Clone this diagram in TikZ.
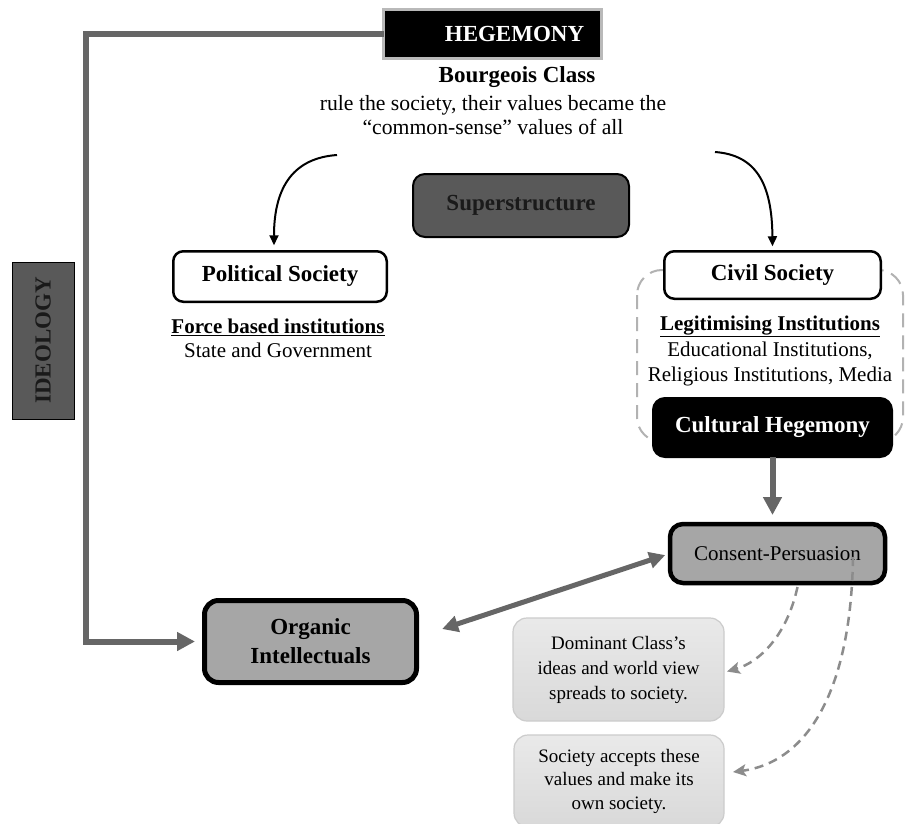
\documentclass[tikz,border=0pt]{standalone}
\usepackage{fontspec}
\setmainfont{Liberation Serif}
\usetikzlibrary{arrows.meta}
\definecolor{linegray}{HTML}{666666}
\definecolor{darkfill}{HTML}{595959}
\definecolor{midfill}{HTML}{A6A6A6}
\definecolor{dashgray}{HTML}{8C8C8C}
\definecolor{darktext}{HTML}{1A1A1A}
\newcommand{\fsz}[2]{\fontsize{#1}{#2}\selectfont}

\begin{document}
\begin{tikzpicture}[x=1pt,y=-1pt,
  every node/.style={inner sep=0pt,outer sep=0pt,align=center},
  titlefont/.style={font=\fsz{23}{28}\bfseries},
  bodyfont/.style={font=\fsz{21}{24}},
  notefont/.style={font=\fsz{19}{25}},
  whitebox/.style={rectangle,rounded corners=10pt,draw=black,line width=2.5pt,fill=white,titlefont},
  blackbox/.style={rectangle,rounded corners=12pt,draw=black,line width=2pt,fill=black,text=white,titlefont},
  darkbox/.style={rectangle,rounded corners=12pt,draw=black,line width=2pt,fill=darkfill,text=darktext,titlefont},
  greybox/.style={rectangle,rounded corners=13pt,draw=black,line width=4.5pt,fill=midfill},
  notebox/.style={rectangle,rounded corners=14pt,draw=gray!40,line width=1.2pt,top color=gray!17,bottom color=gray!30,notefont},
  heavyline/.style={draw=linegray,line width=6pt},
  heavytip/.style={-{Triangle[length=18pt,width=18pt]}},
  bentarrow/.style={draw=black,line width=2pt,-{Triangle[length=10pt,width=9pt]}},
  dashedarrow/.style={draw=dashgray,line width=2.5pt,dash pattern=on 9pt off 6pt,-{Stealth[length=13pt,width=12pt,inset=3pt]}}
]
\fill[white] (0,0) rectangle (905,824);
\useasboundingbox (0,0) rectangle (905,824);

% dashed frame round the civil society block
\draw[gray!60,line width=2pt,dash pattern=on 14pt off 8pt,rounded corners=25pt]
  (637,270) rectangle (903,442);

% top of the hierarchy
\node[rectangle,fill=black,draw=gray!55,line width=3pt,minimum width=218pt,minimum height=49pt,
      text=white,titlefont] (heg) at (492.5,34) {\hspace*{44pt}HEGEMONY};
\node[titlefont] (bourg) at (517,77) {Bourgeois Class};
\node[font=\fsz{21.7}{24}] (rule) at (493,115) {rule the society, their values became the\\“common-sense” values of all};

\node[darkbox,minimum width=216pt,minimum height=63pt] (sup) at (521,205.5) {Superstructure};

% political society
\node[whitebox,minimum width=213.5pt,minimum height=50.5pt] (pol) at (280,276.5) {Political Society};
\node[bodyfont] (force) at (278,338) {\textbf{\underline{Force based institutions}}\\State and Government};

% civil society
\node[whitebox,minimum width=216.5pt,minimum height=47.5pt] (civ) at (772.5,275) {Civil Society};
\node[font=\fsz{21}{25.5}] (legit) at (770,351) {\textbf{\underline{Legitimising Institutions}}\\Educational Institutions,\\Religious Institutions, Media};
\node[blackbox,minimum width=239pt,minimum height=59pt] (cult) at (772.5,427.5) {Cultural Hegemony};

% consent and intellectuals
\node[greybox,minimum width=215pt,minimum height=59pt,bodyfont] (cons) at (777.5,553.5) {Consent-Persuasion};
\node[greybox,line width=5pt,rounded corners=14pt,minimum width=212pt,minimum height=82pt,font=\fsz{23}{29}\bfseries] (org) at (310.5,641.5) {Organic\\Intellectuals};

% outcomes
\node[notebox,minimum width=211pt,minimum height=103pt] (dom) at (618.5,669.5) {Dominant Class’s\\ideas and world view\\spreads to society.};
\node[notebox,font=\fsz{19}{23.5},minimum width=210pt,minimum height=92pt] (soc) at (619,781) {Society accepts these\\values and make its\\own society.};

% ideology label
\node[rectangle,draw=black,line width=1pt,fill=darkfill,text=darktext,titlefont,rotate=90,
      minimum width=157pt,minimum height=62pt] (ideo) at (43,340.5) {IDEOLOGY};

% connectors
\coordinate (hegbend) at (86,34);
\draw[heavyline,heavytip,shorten >=9.5pt] (heg.west) -- (hegbend) |- (org.west);

\coordinate (leftstart) at (337,155);
\coordinate (rightstart) at (715,152);
\draw[bentarrow] (leftstart) .. controls (295,158) and (274,185) .. ([xshift=-6pt,yshift=6pt]pol.north);
\draw[bentarrow] (rightstart) .. controls (755,155) and (772,182) .. ([yshift=5pt]civ.north);

\draw[heavyline,heavytip,shorten >=9pt] (cult.south) -- (cult.south |- cons.north);

\draw[draw=linegray,line width=5pt,{Triangle[length=16pt,width=16pt]}-{Triangle[length=16pt,width=16pt]},
      shorten <=27pt,shorten >=5pt] ([yshift=4pt]org.east) -- (cons.west);

\draw[dashedarrow] ([xshift=20pt,yshift=-4pt]cons.south) .. controls (787,635) and (760,662) .. ([xshift=3pt,yshift=-2pt]dom.east);
\draw[dashedarrow] ([xshift=75.5pt,yshift=-3.5pt]cons.center) .. controls (851,690) and (808,762) .. ([xshift=9pt,yshift=9pt]soc.east);
\end{tikzpicture}
\end{document}
